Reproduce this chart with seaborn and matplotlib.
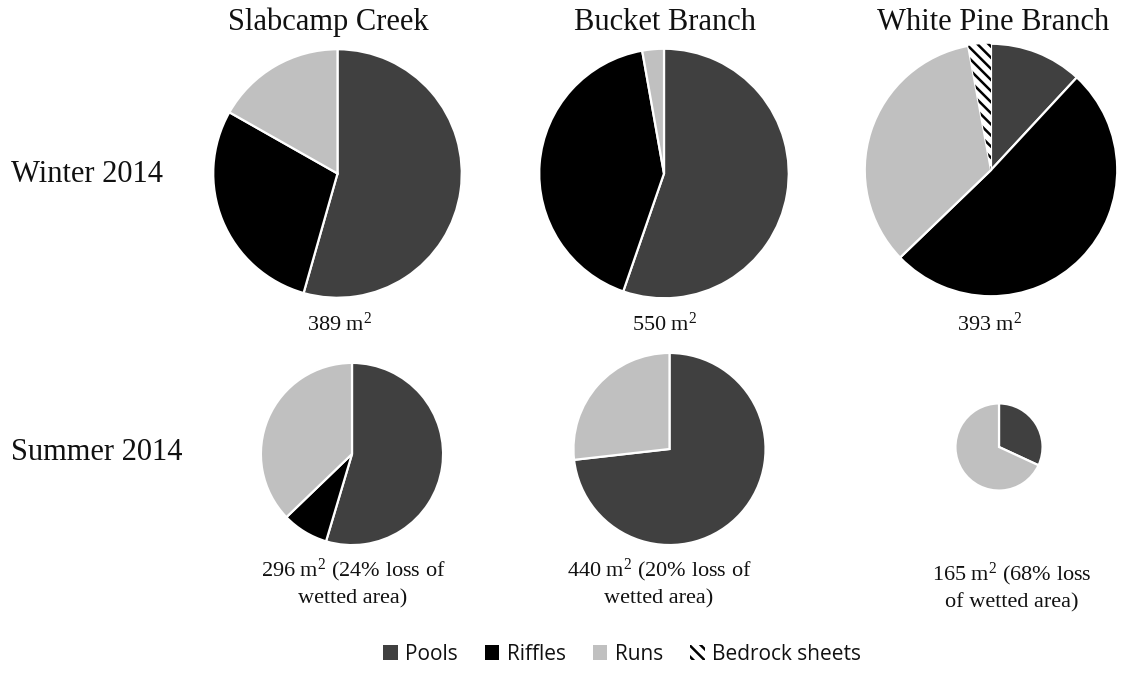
import matplotlib
matplotlib.use("Agg")
import matplotlib.pyplot as plt
from matplotlib.patches import Patch
import seaborn as sns

# ---------------- data ----------------
sites = ["Slabcamp Creek", "Bucket Branch", "White Pine Branch"]
seasons = ["Winter 2014", "Summer 2014"]
habitats = ["Pools", "Riffles", "Runs", "Bedrock sheets"]

# percent of wetted area by habitat (Pools, Riffles, Runs, Bedrock sheets)
slabcamp_winter = [54.4, 28.8, 16.8, 0.0]
bucket_winter = [55.3, 41.9, 2.8, 0.0]
whitepine_winter = [11.9, 50.9, 34.3, 2.9]
slabcamp_summer = [54.6, 8.2, 37.2, 0.0]
bucket_summer = [73.2, 0.0, 26.8, 0.0]
whitepine_summer = [31.9, 0.0, 68.1, 0.0]

winter_area = [389, 550, 393]
summer_area = [296, 440, 165]
area_loss = [24, 20, 68]

M2 = r"m$^{\mathrm{2}}$"
winter_labels = [f"{a} {M2}" for a in winter_area]
summer_labels = [
    f"{summer_area[0]} {M2} ({area_loss[0]}% loss of\nwetted area)",
    f"{summer_area[1]} {M2} ({area_loss[1]}% loss of\nwetted area)",
    f"{summer_area[2]} {M2} ({area_loss[2]}% loss\nof wetted area)",
]

values = {
    ("Winter 2014", "Slabcamp Creek"): slabcamp_winter,
    ("Winter 2014", "Bucket Branch"): bucket_winter,
    ("Winter 2014", "White Pine Branch"): whitepine_winter,
    ("Summer 2014", "Slabcamp Creek"): slabcamp_summer,
    ("Summer 2014", "Bucket Branch"): bucket_summer,
    ("Summer 2014", "White Pine Branch"): whitepine_summer,
}

# ---------------- style ----------------
sns.set_theme(style="white")
plt.rcParams["font.family"] = ["Liberation Serif", "DejaVu Serif"]
plt.rcParams["mathtext.fontset"] = "custom"
plt.rcParams["mathtext.rm"] = "Liberation Serif"
plt.rcParams["mathtext.it"] = "Liberation Serif:italic"
plt.rcParams["mathtext.bf"] = "Liberation Serif:bold"
plt.rcParams["hatch.linewidth"] = 1.8
plt.rcParams["hatch.color"] = "black"

palette = sns.color_palette(["#404040", "#000000", "#c0c0c0", "#ffffff"])
hatches = [None, None, None, "\\\\\\"]

W, H = 1128, 676
fig = plt.figure(figsize=(W / 100, H / 100), dpi=100)
fig.patch.set_facecolor("white")

# pie layout in pixels: (center x, center y from top, radius)
geom = {
    ("Winter 2014", "Slabcamp Creek"): (337.5, 173.5, 125.5),
    ("Winter 2014", "Bucket Branch"): (664, 173.5, 126),
    ("Winter 2014", "White Pine Branch"): (991, 170, 127.5),
    ("Summer 2014", "Slabcamp Creek"): (352, 454, 92),
    ("Summer 2014", "Bucket Branch"): (669.5, 449, 97),
    ("Summer 2014", "White Pine Branch"): (999, 447, 44),
}

for key, vals in values.items():
    cx, cy, r = geom[key]
    ax = fig.add_axes([(cx - r) / W, (H - cy - r) / H, 2 * r / W, 2 * r / H])
    idx = [i for i, v in enumerate(vals) if v > 0]
    wedges, _ = ax.pie(
        [vals[i] for i in idx],
        colors=[palette[i] for i in idx],
        startangle=90,
        counterclock=False,
        radius=1,
        wedgeprops=dict(edgecolor="white", linewidth=1.6),
    )
    for w, i in zip(wedges, idx):
        if hatches[i]:
            w.set_hatch(hatches[i])
            w.set_edgecolor("black")
            w.set_linewidth(0)
    ax.set_xlim(-1.01, 1.01)
    ax.set_ylim(-1.01, 1.01)
    ax.set_aspect("equal")
    ax.axis("off")

# overlay for text in pixel coordinates
ov = fig.add_axes([0, 0, 1, 1])
ov.set_xlim(0, W)
ov.set_ylim(H, 0)
ov.axis("off")

title_x = [328, 665, 993]
for s, x in zip(sites, title_x):
    ov.text(x, 30, s, ha="center", va="baseline", fontsize=22, color="#111111")

row_y = [182, 460]
for s, y in zip(seasons, row_y):
    ov.text(11, y, s, ha="left", va="baseline", fontsize=22, color="#111111")

winter_lab_x = [340, 665, 990]
for t, x in zip(winter_labels, winter_lab_x):
    ov.text(x, 331, t, ha="center", va="baseline", fontsize=16, color="#111111")

summer_lab_x = [353, 659, 1012]
summer_lab_top = [557, 557, 561]
for t, x, y in zip(summer_labels, summer_lab_x, summer_lab_top):
    ov.text(x, y, t, ha="center", va="top", fontsize=16, color="#111111",
            linespacing=1.35)

# legend
handles = []
for i, h in enumerate(habitats):
    if hatches[i]:
        handles.append(Patch(facecolor="white", edgecolor="black", linewidth=0,
                             hatch=hatches[i], label=h))
    else:
        handles.append(Patch(facecolor=palette[i], edgecolor="none", label=h))
fig.legend(
    handles=handles, labels=habitats, loc="center",
    bbox_to_anchor=(622 / W, 1 - 654 / H), ncol=4, frameon=False,
    prop={"family": ["Open Sans", "DejaVu Sans"], "size": 15},
    handlelength=0.7, handleheight=0.7, handletextpad=0.35, columnspacing=1.3,
    labelcolor="#111111",
)

fig.savefig("out.png", dpi=100, facecolor="white")
